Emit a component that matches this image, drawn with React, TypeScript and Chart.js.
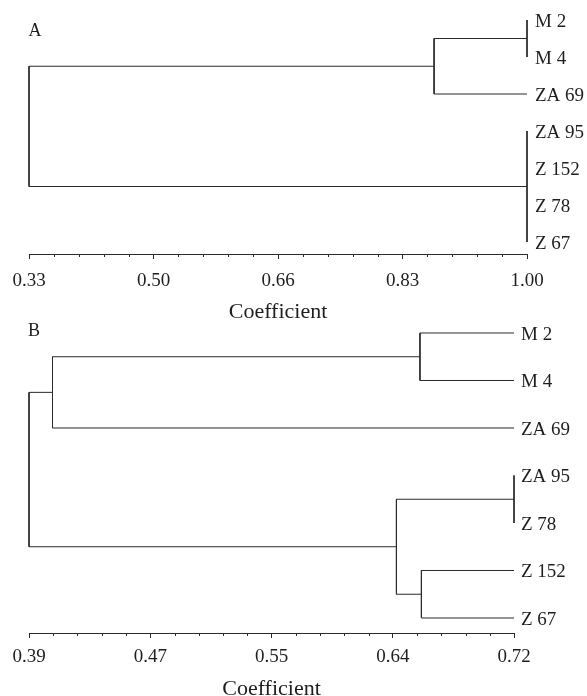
import React, { useEffect, useRef } from "react";
import { Chart, registerables } from "chart.js";

Chart.register(...registerables);

// ---------- Data ----------
// Panel A
const leavesA = ["M 2", "M 4", "ZA 69", "ZA 95", "Z 152", "Z 78", "Z 67"];
// merges: children refer to leaf indices (0..6) or earlier merge nodes (7, 8, ...)
const mergeChildrenA = [[0, 1], [7, 2], [3, 4, 5, 6], [8, 9]];
const mergeCoefA = [1.0, 0.875, 1.0, 0.33];
const axisRangeA = [0.33, 1.0];
const tickLabelsA = ["0.33", "0.50", "0.66", "0.83", "1.00"];

// Panel B
const leavesB = ["M 2", "M 4", "ZA 69", "ZA 95", "Z 78", "Z 152", "Z 67"];
const mergeChildrenB = [[0, 1], [7, 2], [3, 4], [5, 6], [9, 10], [8, 11]];
const mergeCoefB = [0.656, 0.406, 0.72, 0.657, 0.64, 0.39];
const axisRangeB = [0.39, 0.72];
const tickLabelsB = ["0.39", "0.47", "0.55", "0.64", "0.72"];

const axisTitle = "Coefficient";

// ---------- Styles ----------
const FONT = '"Liberation Serif", "Times New Roman", serif';
const LINE = "#2a2a2a";
const TEXT = "#1e1e1e";
const W = 587;

type Pt = { x: number; y: number };

function buildSegments(
  nLeaves: number,
  children: number[][],
  coefs: number[],
  leafCoef: number
): Pt[][] {
  const xs: number[] = [];
  const ys: number[] = [];
  for (let i = 0; i < nLeaves; i++) {
    xs.push(leafCoef);
    ys.push(i);
  }
  const segs: Pt[][] = [];
  children.forEach((ch, k) => {
    const c = coefs[k];
    const cy = ch.map((j) => ys[j]);
    const y0 = Math.min(...cy);
    const y1 = Math.max(...cy);
    segs.push([
      { x: c, y: y0 },
      { x: c, y: y1 },
    ]);
    ch.forEach((j) => {
      if (xs[j] !== c) {
        segs.push([
          { x: xs[j], y: ys[j] },
          { x: c, y: ys[j] },
        ]);
      }
    });
    xs.push(c);
    ys.push((y0 + y1) / 2);
  });
  return segs;
}

type PanelCfg = {
  letter: string;
  letterX: number;
  letterY: number;
  leaves: string[];
  children: number[][];
  coefs: number[];
  range: number[];
  tickLabels: string[];
  height: number;
  padTop: number;
  yMin: number;
  yMax: number;
  axisH: number;
  tickPad: number;
  leafPad: number;
  chartRight: number;
};

function makeDecor(letter: string, lx: number, ly: number) {
  return {
    id: "decor" + letter,
    afterDraw(chart: any) {
      const ctx = chart.ctx;
      const xs = chart.scales.x;
      const bottom = chart.chartArea.bottom;
      ctx.save();
      ctx.strokeStyle = LINE;
      ctx.lineWidth = 1;
      xs.ticks.forEach((t: any, i: number) => {
        if (i % 5 !== 0) {
          const px = Math.round(xs.getPixelForValue(t.value)) + 0.5;
          ctx.beginPath();
          ctx.moveTo(px, Math.round(bottom));
          ctx.lineTo(px, Math.round(bottom) + 3);
          ctx.stroke();
        }
      });
      ctx.fillStyle = TEXT;
      ctx.font = `18px ${FONT}`;
      ctx.textAlign = "center";
      ctx.textBaseline = "middle";
      ctx.fillText(letter, lx, ly);
      ctx.restore();
    },
  };
}

function createPanel(canvas: HTMLCanvasElement, cfg: PanelCfg) {
  const [mn, mx] = cfg.range;
  const segs = buildSegments(cfg.leaves.length, cfg.children, cfg.coefs, mx);
  const datasets = segs.map((s) => ({
    data: s,
    showLine: true,
    borderColor: LINE,
    borderWidth: 1,
    pointRadius: 0,
    pointHoverRadius: 0,
    fill: false,
    tension: 0,
    clip: false as any,
  }));
  const yWidth = W - cfg.chartRight;
  return new Chart(canvas, {
    type: "scatter",
    data: { datasets },
    options: {
      responsive: false,
      animation: false,
      events: [],
      layout: { padding: { left: 29, right: 0, top: cfg.padTop, bottom: 0 } },
      plugins: { legend: { display: false }, tooltip: { enabled: false } },
      scales: {
        x: {
          type: "linear",
          position: "bottom",
          min: mn,
          max: mx,
          afterBuildTicks: (scale: any) => {
            scale.ticks = Array.from({ length: 21 }, (_, i) => ({
              value: mn + (i * (mx - mn)) / 20,
            }));
          },
          afterFit: (scale: any) => {
            scale.height = cfg.axisH;
            scale.paddingLeft = 0;
            scale.paddingRight = 0;
          },
          ticks: {
            autoSkip: false,
            maxRotation: 0,
            padding: cfg.tickPad,
            color: TEXT,
            font: { family: FONT, size: 19, lineHeight: 22 / 19 },
            callback: (_v: any, i: number) => (i % 5 === 0 ? cfg.tickLabels[i / 5] : ""),
          },
          grid: {
            display: true,
            drawOnChartArea: false,
            drawTicks: true,
            tickLength: 5,
            tickWidth: 1,
            tickColor: (c: any) => (c.index % 5 === 0 ? LINE : "rgba(0,0,0,0)"),
          },
          border: { display: true, color: LINE, width: 1 },
          title: {
            display: true,
            text: axisTitle,
            color: TEXT,
            padding: { top: 0, bottom: 0 },
            font: { family: FONT, size: 22, lineHeight: 12 / 22 },
          },
        },
        y: {
          type: "linear",
          position: "right",
          reverse: true,
          min: cfg.yMin,
          max: cfg.yMax,
          afterBuildTicks: (scale: any) => {
            scale.ticks = cfg.leaves.map((_, i) => ({ value: i }));
          },
          afterFit: (scale: any) => {
            scale.width = yWidth;
            scale.paddingTop = 0;
            scale.paddingBottom = 0;
          },
          ticks: {
            autoSkip: false,
            padding: cfg.leafPad,
            labelOffset: 2,
            color: TEXT,
            font: { family: FONT, size: 19, lineHeight: 22 / 19 },
            callback: (_v: any, i: number) => cfg.leaves[i],
          },
          grid: { display: false, drawTicks: false },
          border: { display: false },
        },
      },
    },
    plugins: [makeDecor(cfg.letter, cfg.letterX, cfg.letterY)],
  } as any);
}

const panelA: PanelCfg = {
  letter: "A",
  letterX: 35,
  letterY: 31,
  leaves: leavesA,
  children: mergeChildrenA,
  coefs: mergeCoefA,
  range: axisRangeA,
  tickLabels: tickLabelsA,
  height: 318,
  padTop: 1.5,
  yMin: -0.5,
  yMax: 6.324,
  axisH: 64,
  tickPad: 11,
  leafPad: 8,
  chartRight: 527,
};

const panelB: PanelCfg = {
  letter: "B",
  letterX: 34,
  letterY: 13,
  leaves: leavesB,
  children: mergeChildrenB,
  coefs: mergeCoefB,
  range: axisRangeB,
  tickLabels: tickLabelsB,
  height: 377,
  padTop: 3.125,
  yMin: -0.25,
  yMax: 6.316,
  axisH: 62,
  tickPad: 8,
  leafPad: 7,
  chartRight: 514,
};

export default function App() {
  const refA = useRef<HTMLCanvasElement | null>(null);
  const refB = useRef<HTMLCanvasElement | null>(null);

  useEffect(() => {
    const charts: Chart[] = [];
    if (refA.current) charts.push(createPanel(refA.current, panelA));
    if (refB.current) charts.push(createPanel(refB.current, panelB));
    return () => charts.forEach((c) => c.destroy());
  }, []);

  return (
    <div
      style={{
        position: "fixed",
        left: 0,
        top: 0,
        width: W,
        height: 696,
        overflow: "hidden",
        background: "#ffffff",
      }}
    >
      <canvas
        ref={refA}
        width={W}
        height={panelA.height}
        style={{ display: "block", width: W, height: panelA.height }}
      />
      <canvas
        ref={refB}
        width={W}
        height={panelB.height}
        style={{ display: "block", width: W, height: panelB.height }}
      />
    </div>
  );
}
